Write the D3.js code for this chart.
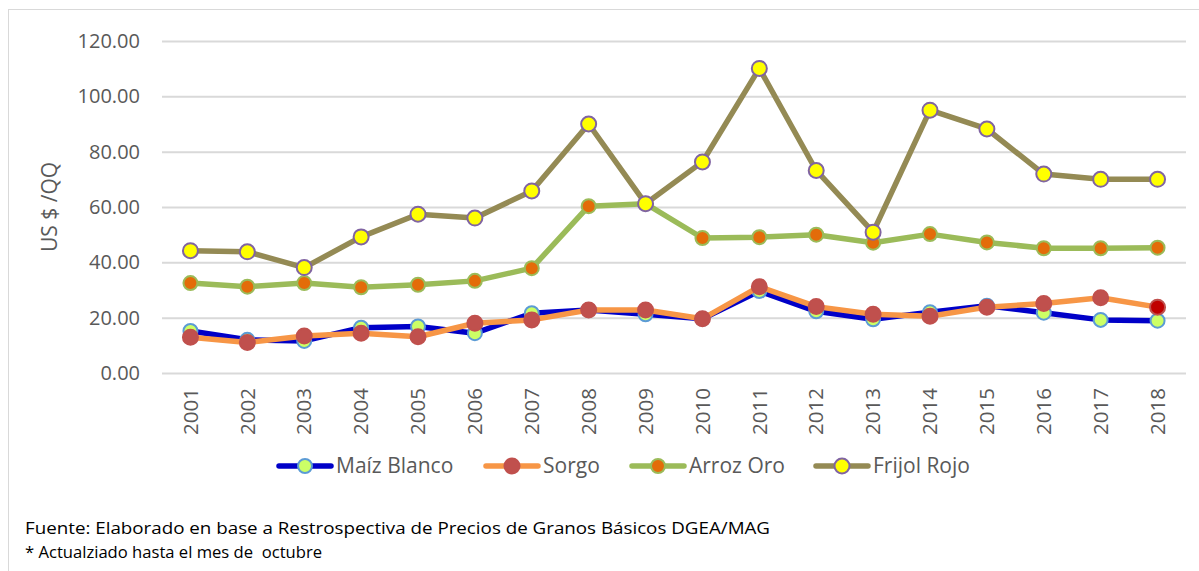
<!DOCTYPE html>
<html>
<head>
<meta charset="utf-8">
<script src="https://cdn.jsdelivr.net/npm/d3@7"></script>
<style>
    body { margin: 0; background: #fff; }
</style>
</head>
<body>
<script>
// #region DATA
var years = ["2001", "2002", "2003", "2004", "2005", "2006", "2007", "2008", "2009",
    "2010", "2011", "2012", "2013", "2014", "2015", "2016", "2017", "2018"];

var maizBlanco = [15.2, 12.0, 11.6, 16.4, 16.8, 14.4, 21.6, 22.8, 21.2, 19.6, 29.6, 22.3, 19.4, 22.0, 24.3, 21.8, 19.2, 18.9];
var sorgo = [12.9, 11.0, 13.4, 14.4, 13.1, 18.0, 19.2, 22.8, 22.8, 19.6, 31.2, 24.0, 21.2, 20.5, 23.8, 25.1, 27.2, 23.8];
var arrozOro = [32.5, 31.2, 32.5, 31.0, 31.9, 33.3, 37.9, 60.3, 61.2, 48.8, 49.1, 50.0, 47.1, 50.2, 47.2, 45.1, 45.1, 45.3];
var frijolRojo = [44.2, 43.8, 38.1, 49.2, 57.4, 56.0, 65.8, 90.0, 61.2, 76.3, 110.1, 73.2, 50.9, 95.0, 88.2, 71.9, 70.0, 70.0];

var yTicks = [0, 20, 40, 60, 80, 100, 120];
// #endregion

// #region SETUP
var width = 1199, height = 571;
var svg = d3.select("body")
    .append("svg")
    .attr("width", width)
    .attr("height", height)
    .style("font-family", "'Open Sans', sans-serif");

// chart border
svg.append("rect")
    .attr("x", 8.5)
    .attr("y", 9.5)
    .attr("width", 1200)
    .attr("height", 600)
    .attr("fill", "none")
    .attr("stroke", "#d9d9d9")
    .attr("stroke-width", 1);

var x = d3.scaleBand()
    .domain(years)
    .range([162, 1186]);

var y = d3.scaleLinear()
    .domain([0, 120])
    .range([373, 41]);

var series = [
    {name: "Maíz Blanco", values: maizBlanco, line: "#0000c8", fill: "#ccff66", stroke: "#5b9bd5", r: 7},
    {name: "Sorgo", values: sorgo, line: "#f79646", fill: "#c0504d", stroke: "#c0504d", r: 7.5},
    {name: "Arroz Oro", values: arrozOro, line: "#9bbb59", fill: "#e36c09", stroke: "#9bbb59", r: 7},
    {name: "Frijol Rojo", values: frijolRojo, line: "#948a54", fill: "#ffff00", stroke: "#8064a2", r: 7.5}
];
// #endregion

// #region AXES
var yAxis = svg.append("g")
    .attr("transform", "translate(162,0)")
    .call(d3.axisLeft(y)
        .tickValues(yTicks)
        .tickSize(-1024)
        .tickPadding(22)
        .tickFormat(d3.format(".2f")));

yAxis.select(".domain").remove();
yAxis.selectAll("line")
    .attr("stroke", "#d9d9d9")
    .attr("stroke-width", 2);
yAxis.selectAll("text")
    .attr("fill", "#595959")
    .attr("font-size", "20px")
    .style("font-family", "'Open Sans', sans-serif");

var xAxis = svg.append("g")
    .attr("transform", "translate(0,373)")
    .call(d3.axisBottom(x).tickSize(0).tickPadding(0));

xAxis.select(".domain").remove();
xAxis.selectAll("text")
    .attr("fill", "#595959")
    .attr("font-size", "20.5px")
    .style("font-family", "'Open Sans', sans-serif")
    .attr("text-anchor", "end")
    .attr("dy", "0.35em")
    .attr("transform", "translate(0,15) rotate(-90)");

svg.append("text")
    .text("US $ /QQ")
    .attr("transform", "translate(57,207) rotate(-90)")
    .attr("text-anchor", "middle")
    .attr("fill", "#595959")
    .attr("font-size", "21px");
// #endregion

// #region LINES
var line = d3.line()
    .x(function(d, i) { return x(years[i]) + x.bandwidth() / 2; })
    .y(function(d) { return y(d); });

series.forEach(function(s) {
    var g = svg.append("g");

    g.append("path")
        .datum(s.values)
        .attr("d", line)
        .attr("fill", "none")
        .attr("stroke", s.line)
        .attr("stroke-width", 5.5)
        .attr("stroke-linejoin", "round");

    g.selectAll("circle")
        .data(s.values)
        .enter()
        .append("circle")
            .attr("cx", function(d, i) { return x(years[i]) + x.bandwidth() / 2; })
            .attr("cy", function(d) { return y(d); })
            .attr("r", s.r)
            .attr("fill", function(d, i) {
                // last sorgo point is highlighted darker red
                if (s.name == "Sorgo" && i == years.length - 1) return "#c00000";
                return s.fill;
            })
            .attr("stroke", s.stroke)
            .attr("stroke-width", 2);
});
// #endregion

// #region LEGEND
var legendX = [277, 484, 630, 814];

var legend = svg.append("g")
    .selectAll("g")
    .data(series)
    .enter()
    .append("g")
    .attr("transform", function(d, i) { return "translate(" + legendX[i] + ",466)"; });

legend.append("line")
    .attr("x1", 2)
    .attr("x2", 54)
    .attr("stroke", d => d.line)
    .attr("stroke-width", 5.5)
    .attr("stroke-linecap", "round");

legend.append("circle")
    .attr("cx", 28)
    .attr("r", d => d.r)
    .attr("fill", d => d.fill)
    .attr("stroke", d => d.stroke)
    .attr("stroke-width", 2);

legend.append("text")
    .text(d => d.name)
    .attr("x", 59)
    .attr("dy", "0.35em")
    .attr("fill", "#595959")
    .attr("font-size", "21px");
// #endregion

// #region FOOTER
svg.append("text")
    .text("Fuente: Elaborado en base a Restrospectiva de Precios de Granos Básicos DGEA/MAG")
    .attr("x", 25)
    .attr("y", 534)
    .attr("fill", "#000")
    .attr("font-size", "16px")
    .attr("textLength", 745)
    .attr("lengthAdjust", "spacingAndGlyphs");

svg.append("text")
    .text("* Actualziado hasta el mes de  octubre")
    .attr("x", 25)
    .attr("y", 558)
    .attr("fill", "#000")
    .attr("font-size", "16px")
    .attr("textLength", 297)
    .attr("lengthAdjust", "spacingAndGlyphs")
    .style("white-space", "pre");
// #endregion
</script>
</body>
</html>
